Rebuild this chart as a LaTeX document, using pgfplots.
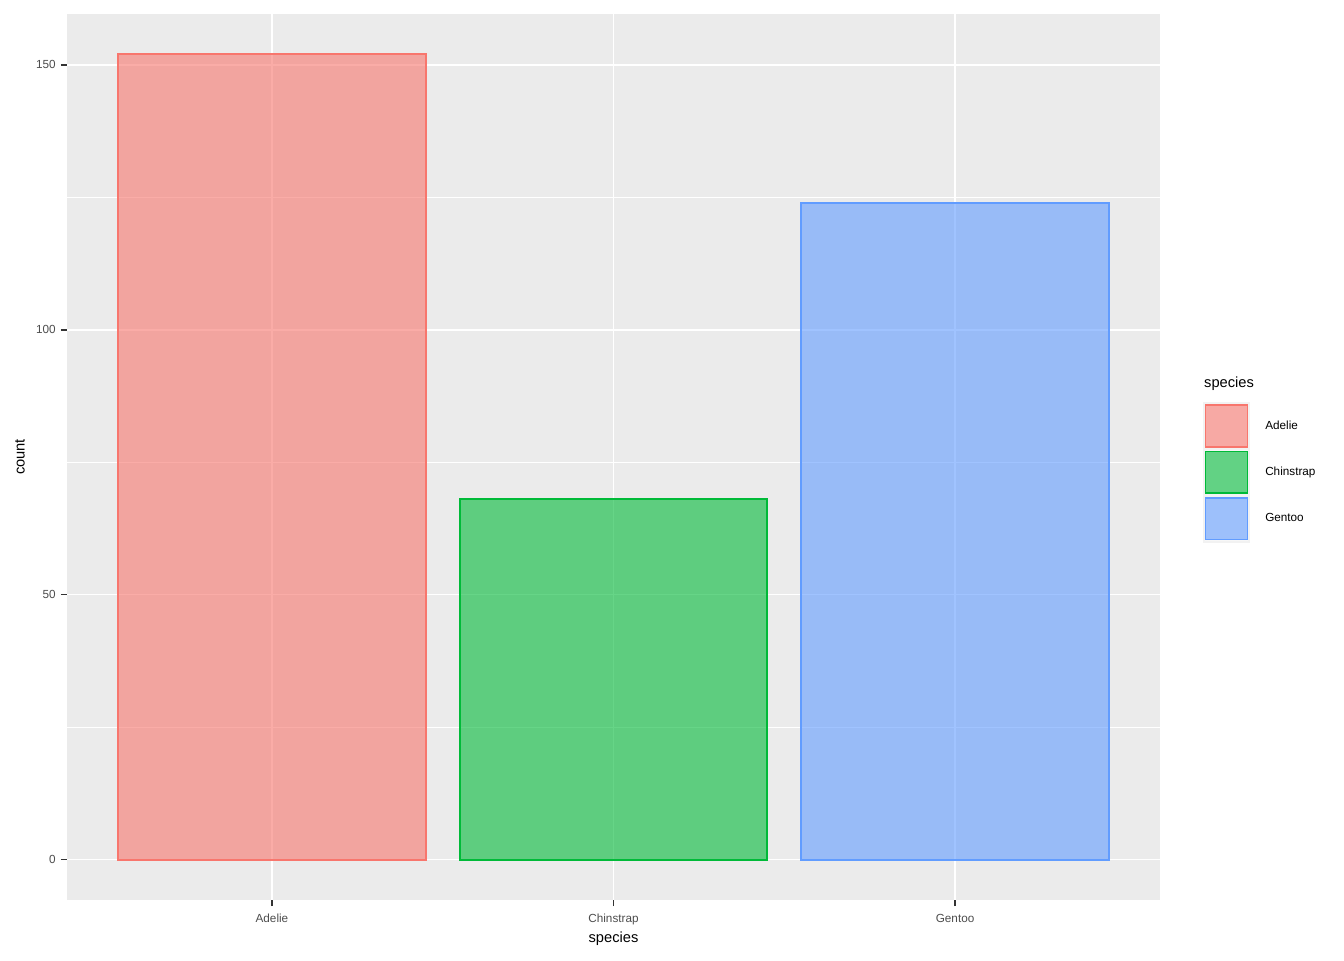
\documentclass[border=0pt]{standalone}
\usepackage{pgfplots}
\pgfplotsset{compat=1.18}
\usepackage{fontspec}
\setmainfont{Liberation Sans}
\definecolor{panelbg}{HTML}{EBEBEB}
\definecolor{cAdelie}{HTML}{F8766D}
\definecolor{cChin}{HTML}{00BA38}
\definecolor{cGentoo}{HTML}{619CFF}
\definecolor{ticklab}{HTML}{4D4D4D}
\definecolor{tickcol}{HTML}{333333}
\begin{document}
\begin{tikzpicture}
\path[use as bounding box, fill=white] (0pt,0pt) rectangle (1008pt,720pt);
\begin{axis}[
  at={(50.25pt,45pt)}, anchor=south west,
  scale only axis, width=819.75pt, height=664.5pt,
  xmin=0.4, xmax=3.6, ymin=-7.6, ymax=159.6,
  axis background/.style={fill=panelbg},
  axis line style={draw=none},
  xtick={1,2,3}, xticklabels={Adelie,Chinstrap,Gentoo},
  ytick={0,50,100,150},
  minor ytick={25,75,125},
  grid=both,
  major grid style={white, line width=1.07pt},
  minor grid style={white, line width=0.53pt},
  tick align=outside,
  major tick length=4.5pt,
  minor tick length=0pt,
  tick style={tickcol, line width=1.07pt},
  xtick pos=bottom, ytick pos=left,
  /pgf/number format/assume math mode=true,
  ticklabel style={font=\fontsize{8.8}{10}\selectfont, text=ticklab},
  xticklabel style={yshift=-2.75pt},
  yticklabel style={xshift=-0.5pt},
  xlabel={species}, ylabel={count},
  label style={font=\fontsize{11}{13}\selectfont},
  xlabel style={at={(axis description cs:0.5,-0.0441)}, anchor=center},
  ylabel style={at={(axis description cs:-0.0430,0.5)}, anchor=center},
  ybar, bar width=0.9, bar shift=0pt,
  legend style={at={(axis description cs:1.0394,0.5621)}, anchor=north west,
    draw=none, fill=none, inner sep=0pt, outer sep=0pt,
    row sep=-1.1pt, column sep=11.5pt,
    font=\fontsize{8.8}{10}\selectfont,
    nodes={inner sep=0pt, outer sep=0pt}},
  legend cell align=left,
  legend image code/.code={
    \fill[white!95!black] (0pt,-17.25pt) rectangle (33.75pt,17.25pt);
    \draw[#1] (1.1pt,-15.6pt) rectangle (32.6pt,15.6pt);
  },
  clip=false,
]
\addplot[draw=cAdelie, fill=cAdelie, fill opacity=0.6, line width=1.4pt] coordinates {(1,152)};
\addlegendentry{Adelie}
\addplot[draw=cChin, fill=cChin, fill opacity=0.6, line width=1.4pt] coordinates {(2,68)};
\addlegendentry{Chinstrap}
\addplot[draw=cGentoo, fill=cGentoo, fill opacity=0.6, line width=1.4pt] coordinates {(3,124)};
\addlegendentry{Gentoo}
\node[anchor=west, inner sep=0pt, font=\fontsize{11}{13}\selectfont] at (axis description cs:1.0402,0.5824) {species};
\end{axis}
\end{tikzpicture}
\end{document}
